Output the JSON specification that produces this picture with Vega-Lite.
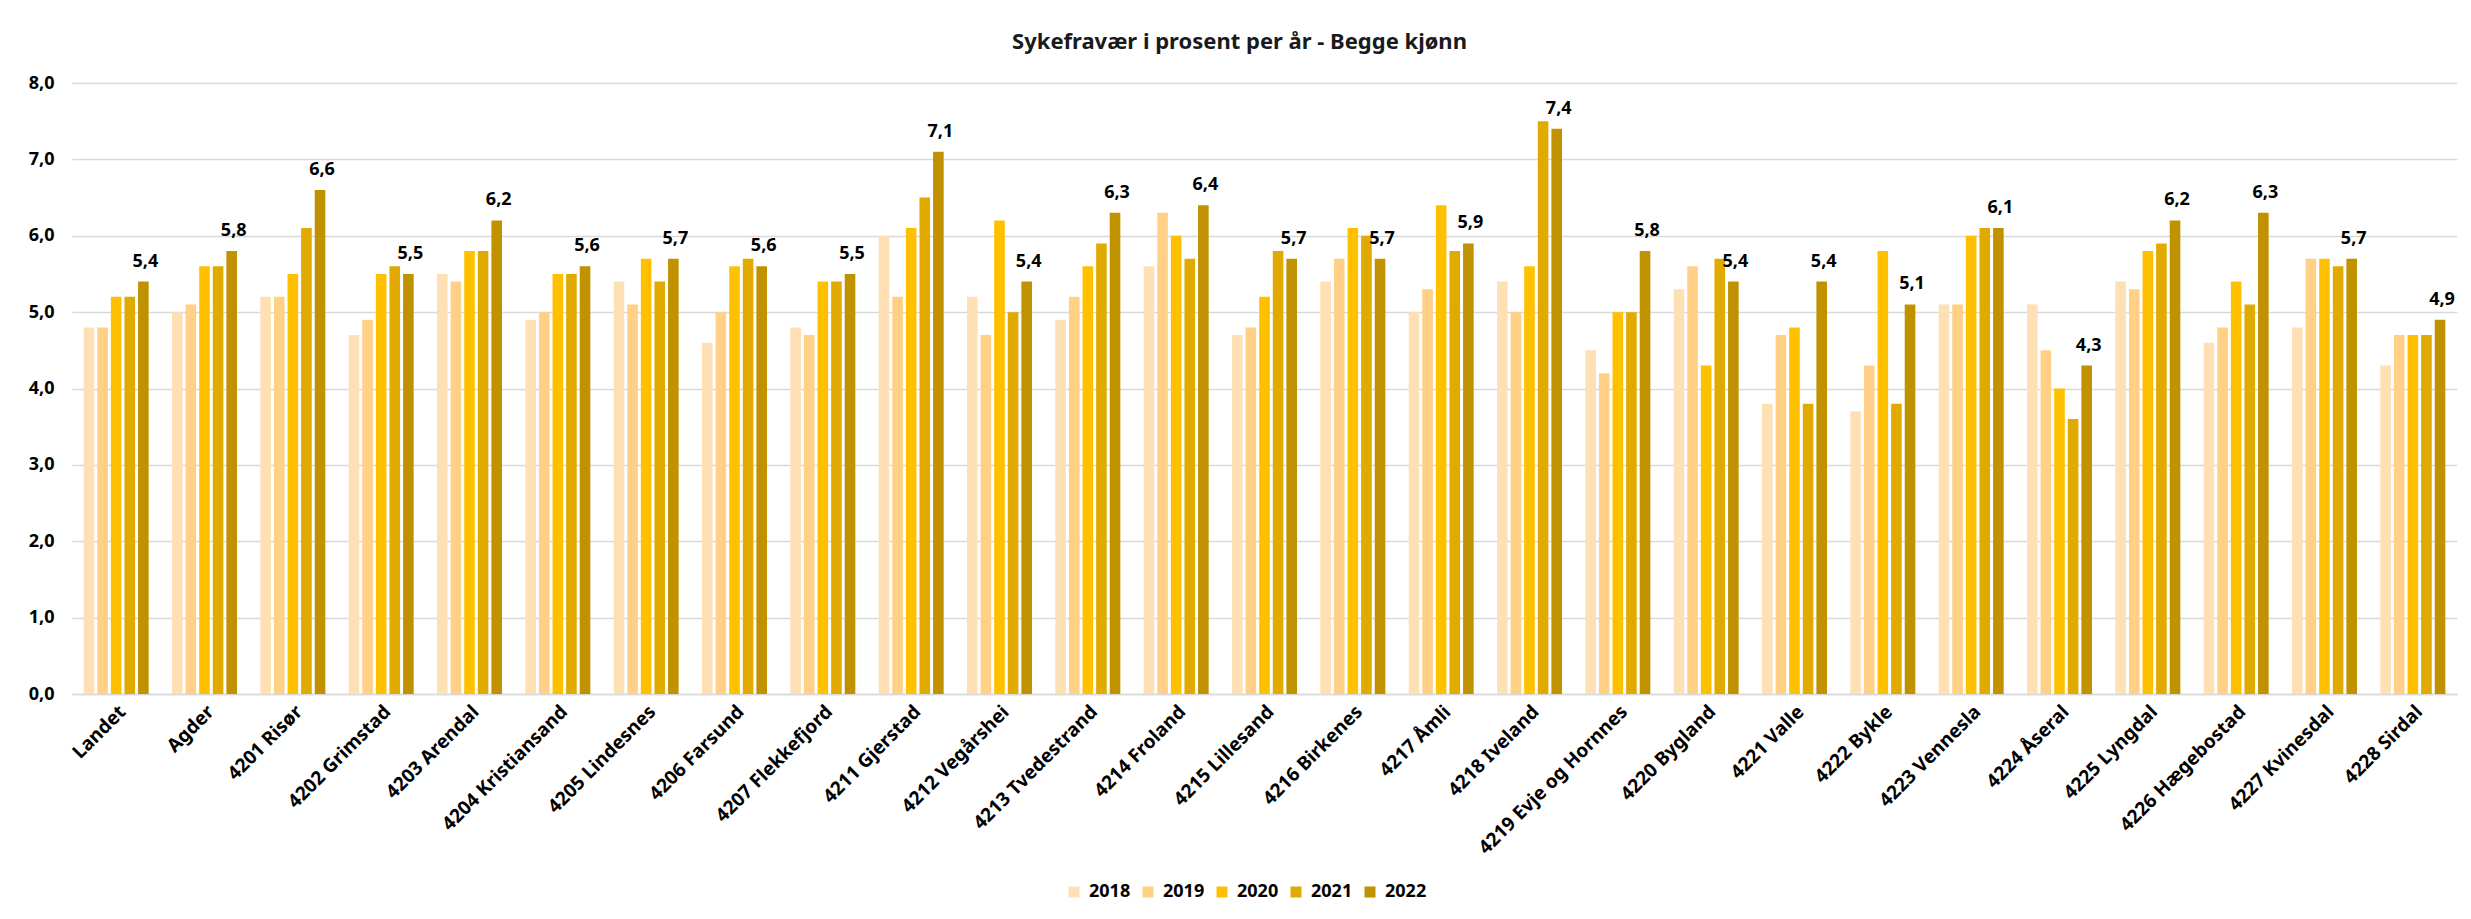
{
  "$schema": "https://vega.github.io/schema/vega-lite/v6.json",
  "autosize": {"type": "none"},
  "width": 2385,
  "height": 611,
  "padding": {"left": 72, "top": 83, "right": 14, "bottom": 225},
  "background": "white",
  "title": {
    "text": "Sykefravær i prosent per år - Begge kjønn",
    "font": "Noto Sans",
    "fontSize": 22,
    "fontWeight": "bold",
    "color": "#1a1a1a",
    "anchor": "middle",
    "baseline": "alphabetic",
    "dx": -25,
    "offset": 3
  },
  "data": {"values": [
    {"k":"Landet","y":"2018","v":4.8},{"k":"Landet","y":"2019","v":4.8},{"k":"Landet","y":"2020","v":5.2},{"k":"Landet","y":"2021","v":5.2},{"k":"Landet","y":"2022","v":5.4},
    {"k":"Agder","y":"2018","v":5.0},{"k":"Agder","y":"2019","v":5.1},{"k":"Agder","y":"2020","v":5.6},{"k":"Agder","y":"2021","v":5.6},{"k":"Agder","y":"2022","v":5.8},
    {"k":"4201 Risør","y":"2018","v":5.2},{"k":"4201 Risør","y":"2019","v":5.2},{"k":"4201 Risør","y":"2020","v":5.5},{"k":"4201 Risør","y":"2021","v":6.1},{"k":"4201 Risør","y":"2022","v":6.6},
    {"k":"4202 Grimstad","y":"2018","v":4.7},{"k":"4202 Grimstad","y":"2019","v":4.9},{"k":"4202 Grimstad","y":"2020","v":5.5},{"k":"4202 Grimstad","y":"2021","v":5.6},{"k":"4202 Grimstad","y":"2022","v":5.5},
    {"k":"4203 Arendal","y":"2018","v":5.5},{"k":"4203 Arendal","y":"2019","v":5.4},{"k":"4203 Arendal","y":"2020","v":5.8},{"k":"4203 Arendal","y":"2021","v":5.8},{"k":"4203 Arendal","y":"2022","v":6.2},
    {"k":"4204 Kristiansand","y":"2018","v":4.9},{"k":"4204 Kristiansand","y":"2019","v":5.0},{"k":"4204 Kristiansand","y":"2020","v":5.5},{"k":"4204 Kristiansand","y":"2021","v":5.5},{"k":"4204 Kristiansand","y":"2022","v":5.6},
    {"k":"4205 Lindesnes","y":"2018","v":5.4},{"k":"4205 Lindesnes","y":"2019","v":5.1},{"k":"4205 Lindesnes","y":"2020","v":5.7},{"k":"4205 Lindesnes","y":"2021","v":5.4},{"k":"4205 Lindesnes","y":"2022","v":5.7},
    {"k":"4206 Farsund","y":"2018","v":4.6},{"k":"4206 Farsund","y":"2019","v":5.0},{"k":"4206 Farsund","y":"2020","v":5.6},{"k":"4206 Farsund","y":"2021","v":5.7},{"k":"4206 Farsund","y":"2022","v":5.6},
    {"k":"4207 Flekkefjord","y":"2018","v":4.8},{"k":"4207 Flekkefjord","y":"2019","v":4.7},{"k":"4207 Flekkefjord","y":"2020","v":5.4},{"k":"4207 Flekkefjord","y":"2021","v":5.4},{"k":"4207 Flekkefjord","y":"2022","v":5.5},
    {"k":"4211 Gjerstad","y":"2018","v":6.0},{"k":"4211 Gjerstad","y":"2019","v":5.2},{"k":"4211 Gjerstad","y":"2020","v":6.1},{"k":"4211 Gjerstad","y":"2021","v":6.5},{"k":"4211 Gjerstad","y":"2022","v":7.1},
    {"k":"4212 Vegårshei","y":"2018","v":5.2},{"k":"4212 Vegårshei","y":"2019","v":4.7},{"k":"4212 Vegårshei","y":"2020","v":6.2},{"k":"4212 Vegårshei","y":"2021","v":5.0},{"k":"4212 Vegårshei","y":"2022","v":5.4},
    {"k":"4213 Tvedestrand","y":"2018","v":4.9},{"k":"4213 Tvedestrand","y":"2019","v":5.2},{"k":"4213 Tvedestrand","y":"2020","v":5.6},{"k":"4213 Tvedestrand","y":"2021","v":5.9},{"k":"4213 Tvedestrand","y":"2022","v":6.3},
    {"k":"4214 Froland","y":"2018","v":5.6},{"k":"4214 Froland","y":"2019","v":6.3},{"k":"4214 Froland","y":"2020","v":6.0},{"k":"4214 Froland","y":"2021","v":5.7},{"k":"4214 Froland","y":"2022","v":6.4},
    {"k":"4215 Lillesand","y":"2018","v":4.7},{"k":"4215 Lillesand","y":"2019","v":4.8},{"k":"4215 Lillesand","y":"2020","v":5.2},{"k":"4215 Lillesand","y":"2021","v":5.8},{"k":"4215 Lillesand","y":"2022","v":5.7},
    {"k":"4216 Birkenes","y":"2018","v":5.4},{"k":"4216 Birkenes","y":"2019","v":5.7},{"k":"4216 Birkenes","y":"2020","v":6.1},{"k":"4216 Birkenes","y":"2021","v":6.0},{"k":"4216 Birkenes","y":"2022","v":5.7},
    {"k":"4217 Åmli","y":"2018","v":5.0},{"k":"4217 Åmli","y":"2019","v":5.3},{"k":"4217 Åmli","y":"2020","v":6.4},{"k":"4217 Åmli","y":"2021","v":5.8},{"k":"4217 Åmli","y":"2022","v":5.9},
    {"k":"4218 Iveland","y":"2018","v":5.4},{"k":"4218 Iveland","y":"2019","v":5.0},{"k":"4218 Iveland","y":"2020","v":5.6},{"k":"4218 Iveland","y":"2021","v":7.5},{"k":"4218 Iveland","y":"2022","v":7.4},
    {"k":"4219 Evje og Hornnes","y":"2018","v":4.5},{"k":"4219 Evje og Hornnes","y":"2019","v":4.2},{"k":"4219 Evje og Hornnes","y":"2020","v":5.0},{"k":"4219 Evje og Hornnes","y":"2021","v":5.0},{"k":"4219 Evje og Hornnes","y":"2022","v":5.8},
    {"k":"4220 Bygland","y":"2018","v":5.3},{"k":"4220 Bygland","y":"2019","v":5.6},{"k":"4220 Bygland","y":"2020","v":4.3},{"k":"4220 Bygland","y":"2021","v":5.7},{"k":"4220 Bygland","y":"2022","v":5.4},
    {"k":"4221 Valle","y":"2018","v":3.8},{"k":"4221 Valle","y":"2019","v":4.7},{"k":"4221 Valle","y":"2020","v":4.8},{"k":"4221 Valle","y":"2021","v":3.8},{"k":"4221 Valle","y":"2022","v":5.4},
    {"k":"4222 Bykle","y":"2018","v":3.7},{"k":"4222 Bykle","y":"2019","v":4.3},{"k":"4222 Bykle","y":"2020","v":5.8},{"k":"4222 Bykle","y":"2021","v":3.8},{"k":"4222 Bykle","y":"2022","v":5.1},
    {"k":"4223 Vennesla","y":"2018","v":5.1},{"k":"4223 Vennesla","y":"2019","v":5.1},{"k":"4223 Vennesla","y":"2020","v":6.0},{"k":"4223 Vennesla","y":"2021","v":6.1},{"k":"4223 Vennesla","y":"2022","v":6.1},
    {"k":"4224 Åseral","y":"2018","v":5.1},{"k":"4224 Åseral","y":"2019","v":4.5},{"k":"4224 Åseral","y":"2020","v":4.0},{"k":"4224 Åseral","y":"2021","v":3.6},{"k":"4224 Åseral","y":"2022","v":4.3},
    {"k":"4225 Lyngdal","y":"2018","v":5.4},{"k":"4225 Lyngdal","y":"2019","v":5.3},{"k":"4225 Lyngdal","y":"2020","v":5.8},{"k":"4225 Lyngdal","y":"2021","v":5.9},{"k":"4225 Lyngdal","y":"2022","v":6.2},
    {"k":"4226 Hægebostad","y":"2018","v":4.6},{"k":"4226 Hægebostad","y":"2019","v":4.8},{"k":"4226 Hægebostad","y":"2020","v":5.4},{"k":"4226 Hægebostad","y":"2021","v":5.1},{"k":"4226 Hægebostad","y":"2022","v":6.3},
    {"k":"4227 Kvinesdal","y":"2018","v":4.8},{"k":"4227 Kvinesdal","y":"2019","v":5.7},{"k":"4227 Kvinesdal","y":"2020","v":5.7},{"k":"4227 Kvinesdal","y":"2021","v":5.6},{"k":"4227 Kvinesdal","y":"2022","v":5.7},
    {"k":"4228 Sirdal","y":"2018","v":4.3},{"k":"4228 Sirdal","y":"2019","v":4.7},{"k":"4228 Sirdal","y":"2020","v":4.7},{"k":"4228 Sirdal","y":"2021","v":4.7},{"k":"4228 Sirdal","y":"2022","v":4.9}
  ]},
  "encoding": {
    "x": {
      "field": "k", "type": "nominal", "sort": null,
      "scale": {"paddingInner": 0.264, "paddingOuter": 0.132},
      "axis": {
        "title": null, "labelAngle": -45, "labelFont": "Noto Sans", "labelFontSize": 19,
        "labelFontWeight": "bold", "labelColor": "#000000", "ticks": false,
        "domainColor": "#D9D9D9", "domainWidth": 1.5, "labelPadding": 8, "labelLimit": 400
      }
    },
    "xOffset": {"field": "y", "type": "nominal", "scale": {"paddingInner": 0.22, "paddingOuter": 0}},
    "y": {
      "field": "v", "type": "quantitative",
      "scale": {"domain": [0, 8], "nice": false},
      "axis": {
        "title": null, "values": [0,1,2,3,4,5,6,7,8], "format": ".1f",
        "domain": false, "ticks": false, "gridColor": "#D9D9D9", "gridWidth": 1.5,
        "labelFont": "Noto Sans", "labelFontSize": 18, "labelFontWeight": "bold",
        "labelColor": "#000000", "labelPadding": 18
      }
    }
  },
  "layer": [
    {
      "mark": {"type": "bar"},
      "encoding": {
        "color": {
          "field": "y", "type": "nominal",
          "scale": {"domain": ["2018","2019","2020","2021","2022"], "range": ["#FFE0B4","#FFD086","#FFC000","#E1AA00","#C09200"]},
          "legend": {
            "title": null, "orient": "none", "direction": "horizontal",
            "legendX": 993, "legendY": 800, "padding": 0,
            "symbolType": "square", "symbolSize": 121, "symbolStrokeWidth": 0,
            "labelFont": "Noto Sans", "labelFontSize": 18, "labelFontWeight": "bold",
            "labelColor": "#000000", "labelOffset": 6, "columnPadding": 8
          }
        }
      }
    },
    {
      "transform": [{"filter": "datum.y == '2022'"}],
      "mark": {"type": "text", "baseline": "alphabetic", "dy": -15, "dx": 2, "font": "Noto Sans", "fontSize": 18, "fontWeight": "bold", "color": "#000000"},
      "encoding": {"text": {"field": "v", "type": "quantitative", "format": ".1f"}}
    }
  ],
  "config": {
    "view": {"stroke": null},
    "locale": {"number": {"decimal": ",", "thousands": " ", "grouping": [3], "currency": ["", " kr"]}}
  }
}
